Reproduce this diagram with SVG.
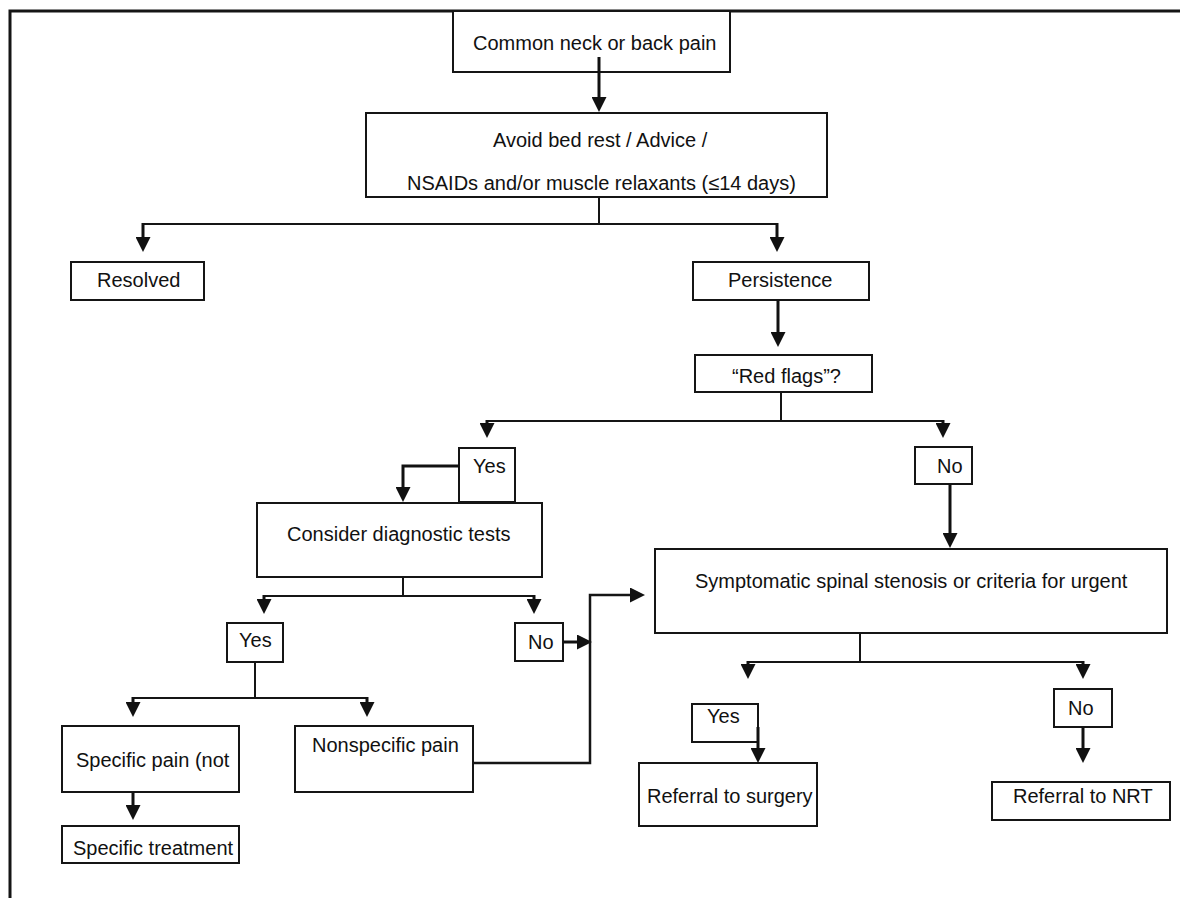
<svg xmlns="http://www.w3.org/2000/svg" width="1180" height="898" viewBox="0 0 1180 898">
<style>
.box{fill:#fff;stroke:#151515;stroke-width:2}
.t{font-family:"Liberation Sans",Arial,sans-serif;font-size:20px;fill:#111}
.thin{fill:none;stroke:#151515;stroke-width:2}
.thick{fill:none;stroke:#111;stroke-width:3}
.frame{fill:none;stroke:#151515;stroke-width:3}
</style>
<defs>
<marker id="ah" markerUnits="userSpaceOnUse" markerWidth="15" markerHeight="15" viewBox="0 0 15 15" refX="0" refY="7.5" orient="auto">
<path d="M0,0 L15,7.5 L0,15 Z" fill="#111"/>
</marker>
</defs>
<rect width="1180" height="898" fill="#fff"/>
<path class="frame" d="M10,898 V11 H1180"/>

<g id="n-common"><rect class="box" x="453" y="11" width="277" height="61"/><text class="t" x="473" y="50">Common neck or back pain</text></g>
<g id="n-avoid"><rect class="box" x="366" y="113" width="461" height="84"/><text class="t" x="493" y="147">Avoid bed rest / Advice /</text><text class="t" x="407" y="190">NSAIDs and/or muscle relaxants (≤14 days)</text></g>
<g id="n-resolved"><rect class="box" x="71" y="262" width="133" height="38"/><text class="t" x="97" y="287">Resolved</text></g>
<g id="n-persistence"><rect class="box" x="693" y="262" width="176" height="38"/><text class="t" x="728" y="287">Persistence</text></g>
<g id="n-redflags"><rect class="box" x="695" y="355" width="177" height="37"/><text class="t" x="732" y="383">“Red flags”?</text></g>
<g id="n-yes1"><rect class="box" x="459" y="448" width="56" height="54"/><text class="t" x="473" y="473">Yes</text></g>
<g id="n-no1"><rect class="box" x="915" y="447" width="57" height="37"/><text class="t" x="937" y="473">No</text></g>
<g id="n-consider"><rect class="box" x="257" y="503" width="285" height="74"/><text class="t" x="287" y="541">Consider diagnostic tests</text></g>
<g id="n-symptomatic"><rect class="box" x="655" y="549" width="512" height="84"/><text class="t" x="695" y="588">Symptomatic spinal stenosis or criteria for urgent</text></g>
<g id="n-yes2"><rect class="box" x="227" y="623" width="56" height="39"/><text class="t" x="239" y="647">Yes</text></g>
<g id="n-no2"><rect class="box" x="515" y="623" width="48" height="38"/><text class="t" x="528" y="649">No</text></g>
<g id="n-specific"><rect class="box" x="62" y="726" width="177" height="66"/><text class="t" x="76" y="767">Specific pain (not</text></g>
<g id="n-nonspecific"><rect class="box" x="295" y="726" width="178" height="66"/><text class="t" x="312" y="752">Nonspecific pain</text></g>
<g id="n-treatment"><rect class="box" x="62" y="826" width="177" height="37"/><text class="t" x="73" y="855">Specific treatment</text></g>
<g id="n-yes3"><rect class="box" x="692" y="704" width="66" height="38"/><text class="t" x="707" y="723">Yes</text></g>
<g id="n-no3"><rect class="box" x="1054" y="689" width="58" height="38"/><text class="t" x="1068" y="715">No</text></g>
<g id="n-surgery"><rect class="box" x="639" y="763" width="178" height="63"/><text class="t" x="647" y="803">Referral to surgery</text></g>
<g id="n-nrt"><rect class="box" x="992" y="782" width="178" height="38"/><text class="t" x="1013" y="803">Referral to NRT</text></g>

<g id="connectors">
<path class="thick" d="M599,57 V97" marker-end="url(#ah)"/>
<path class="thin" d="M599,197 V224"/>
<path class="thin" d="M143,224 H777"/>
<path class="thick" d="M143,223 V237" marker-end="url(#ah)"/>
<path class="thick" d="M777,223 V237" marker-end="url(#ah)"/>
<path class="thick" d="M778,300 V332" marker-end="url(#ah)"/>
<path class="thin" d="M781,392 V421"/>
<path class="thin" d="M487,421 H943"/>
<path class="thick" d="M487,420 V423" marker-end="url(#ah)"/>
<path class="thick" d="M943,420 V423" marker-end="url(#ah)"/>
<path class="thick" d="M459,466 H403 V487" marker-end="url(#ah)"/>
<path class="thick" d="M950,484 V533" marker-end="url(#ah)"/>
<path class="thin" d="M403,577 V596"/>
<path class="thin" d="M264,596 H534"/>
<path class="thick" d="M264,595 V599" marker-end="url(#ah)"/>
<path class="thick" d="M534,595 V599" marker-end="url(#ah)"/>
<path class="thin" d="M255,662 V698"/>
<path class="thin" d="M133,698 H367"/>
<path class="thick" d="M133,697 V702" marker-end="url(#ah)"/>
<path class="thick" d="M367,697 V702" marker-end="url(#ah)"/>
<path class="thick" d="M133,792 V805" marker-end="url(#ah)"/>
<path class="thick" d="M563,642 H577" marker-end="url(#ah)"/>
<path class="thin" d="M473,763 H590 V595 H630" marker-end="url(#ah)" style="stroke-width:2.5"/>
<path class="thin" d="M860,633 V662"/>
<path class="thin" d="M748,662 H1083"/>
<path class="thick" d="M748,661 V664" marker-end="url(#ah)"/>
<path class="thick" d="M1083,661 V664" marker-end="url(#ah)"/>
<path class="thick" d="M758,727 V748" marker-end="url(#ah)"/>
<path class="thick" d="M1083,727 V748" marker-end="url(#ah)"/>
</g>
</svg>
